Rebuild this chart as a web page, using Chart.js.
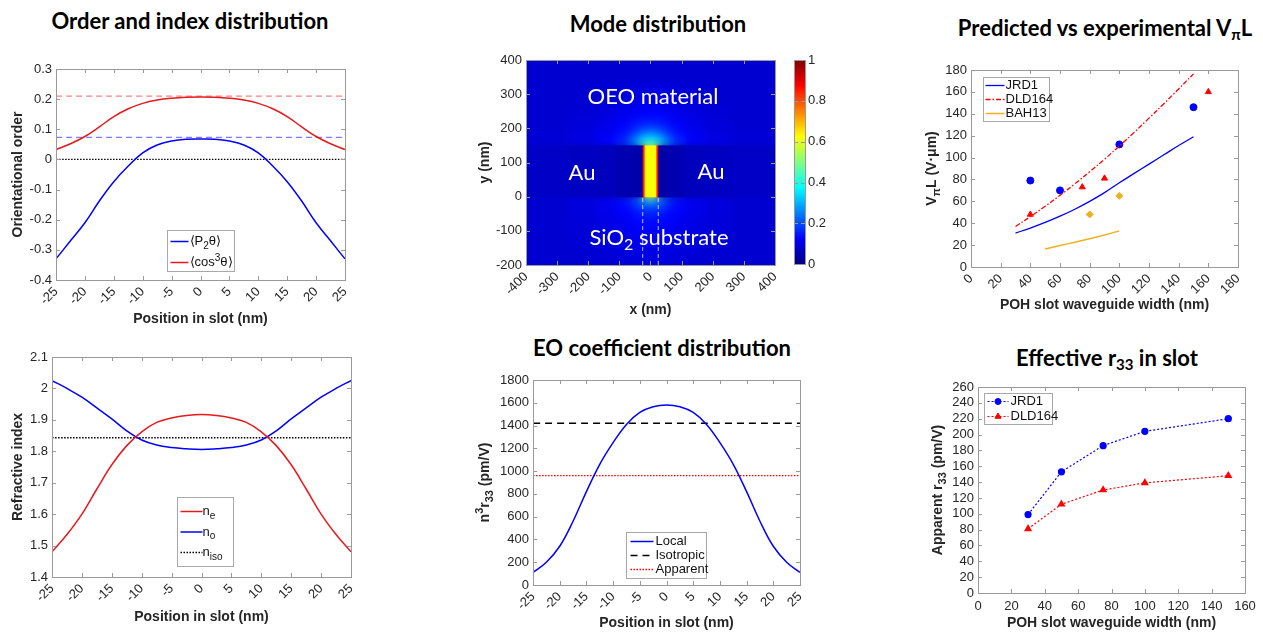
<!DOCTYPE html>
<html>
<head>
<meta charset="utf-8">
<script src="https://cdn.jsdelivr.net/npm/chart.js@4.4.0/dist/chart.umd.min.js"></script>
<style>
  body { margin: 0; width: 1263px; height: 632px; background: #fff; position: relative; overflow: hidden; }
  canvas { position: absolute; }
  .ttl { position: absolute; font: 700 22px Lato, sans-serif; color: #000; white-space: nowrap; transform: translate(-50%, -50%); }
  .ttl sub { font-size: 15px; vertical-align: -4px; line-height: 0; }
  .ann { position: absolute; font: 400 22px Lato, sans-serif; color: #fff; white-space: nowrap; transform: translate(-50%, -50%); z-index: 2; }
  .ann sub { font-size: 16px; vertical-align: -5px; line-height: 0; }
</style>
</head>
<body>
<div class="ttl" style="left:190px;top:20px">Order and index distribution</div>
<div class="ttl" style="left:658px;top:23px">Mode distribution</div>
<div class="ttl" style="left:1105px;top:27px">Predicted vs experimental V<sub>π</sub>L</div>
<div class="ttl" style="left:662px;top:347px">EO coefficient distribution</div>
<div class="ttl" style="left:1107px;top:357px">Effective r<sub>33</sub> in slot</div>

<div class="ann" style="left:653px;top:95px">OEO material</div>
<div class="ann" style="left:582px;top:171px">Au</div>
<div class="ann" style="left:711px;top:170px">Au</div>
<div class="ann" style="left:659px;top:236px">SiO<sub>2</sub> substrate</div>

<script>
// position across the slot (nm)
const slotPos = [-25, -22.5, -20, -17.5, -15, -12.5, -10, -7.5, -5, -2.5, 0, 2.5, 5, 7.5, 10, 12.5, 15, 17.5, 20, 22.5, 25];
const slotTicks = [-25, -20, -15, -10, -5, 0, 5, 10, 15, 20, 25];

// order parameters
const p2Order = [-0.33, -0.27, -0.21, -0.138, -0.074, -0.022, 0.022, 0.048, 0.061, 0.067, 0.068, 0.067, 0.061, 0.048, 0.022, -0.022, -0.074, -0.138, -0.21, -0.27, -0.33];
const cos3Order = [0.033, 0.052, 0.076, 0.108, 0.142, 0.168, 0.186, 0.197, 0.203, 0.206, 0.207, 0.206, 0.203, 0.197, 0.186, 0.168, 0.142, 0.108, 0.076, 0.052, 0.033];
const p2Mean = 0.073;
const cos3Mean = 0.21;
const orderTicks = [-0.4, -0.3, -0.2, -0.1, 0, 0.1, 0.2, 0.3];

// refractive index
const nE = [1.48, 1.535, 1.6, 1.68, 1.757, 1.818, 1.862, 1.892, 1.906, 1.914, 1.917, 1.914, 1.906, 1.892, 1.862, 1.818, 1.757, 1.68, 1.6, 1.535, 1.48];
const nO = [2.025, 2.0, 1.972, 1.938, 1.903, 1.865, 1.836, 1.82, 1.812, 1.808, 1.806, 1.808, 1.812, 1.82, 1.836, 1.865, 1.903, 1.938, 1.972, 2.0, 2.025];
const nIso = 1.843;
const indexTicks = [1.4, 1.5, 1.6, 1.7, 1.8, 1.9, 2, 2.1];

// EO coefficient
const r33Local = [110, 200, 340, 560, 820, 1060, 1250, 1410, 1515, 1565, 1580, 1565, 1515, 1410, 1250, 1060, 820, 560, 340, 200, 110];
const r33Iso = 1420;
const r33App = 960;
const eoTicks = [0, 200, 400, 600, 800, 1000, 1200, 1400, 1600, 1800];

// mode field (jet colour values), rows from bottom to top
const modeXTicks = [-400, -300, -200, -100, 0, 100, 200, 300, 400];
const modeYTicks = [-200, -100, 0, 100, 200, 300, 400];
const cbTicks = [0, 0.2, 0.4, 0.6, 0.8, 1];
const modeXEdges = [-400, -260, -170, -110, -70, -45, -25, -19, 19, 25, 45, 70, 110, 170, 260, 400];
const modeYEdges = [-200, -150, -100, -60, -30, -12, 0, 150, 160, 175, 195, 225, 270, 330, 400];
const modeField = [
  [.08, .08, .085, .09, .09, .095, .095, .095, .095, .095, .09, .09, .085, .08, .08],
  [.08, .085, .09, .1, .105, .11, .11, .11, .11, .11, .105, .1, .09, .085, .08],
  [.08, .09, .1, .11, .12, .125, .13, .13, .13, .125, .12, .11, .1, .09, .08],
  [.08, .09, .105, .12, .135, .15, .16, .16, .16, .15, .135, .12, .105, .09, .08],
  [.08, .095, .11, .13, .16, .2, .23, .23, .23, .2, .16, .13, .11, .095, .08],
  [.085, .1, .12, .15, .2, .27, .33, .33, .33, .27, .2, .15, .12, .1, .085],
  [.07, .065, .06, .05, .045, .04, .85, .62, .85, .04, .045, .05, .06, .065, .07],
  [.085, .1, .13, .18, .28, .38, .42, .42, .42, .38, .28, .18, .13, .1, .085],
  [.085, .1, .125, .16, .23, .32, .37, .37, .37, .32, .23, .16, .125, .1, .085],
  [.085, .095, .115, .14, .18, .23, .27, .27, .27, .23, .18, .14, .115, .095, .085],
  [.08, .09, .105, .125, .145, .16, .17, .17, .17, .16, .145, .125, .105, .09, .08],
  [.08, .085, .095, .105, .115, .12, .125, .125, .125, .12, .115, .105, .095, .085, .08],
  [.08, .08, .085, .09, .095, .095, .1, .1, .1, .095, .095, .09, .085, .08, .08],
  [.08, .08, .08, .08, .08, .08, .08, .08, .08, .08, .08, .08, .08, .08, .08]
];
const slotWalls = [-25, 25];

// V_pi L vs slot width
const vplTicks = [0, 20, 40, 60, 80, 100, 120, 140, 160, 180];
const predW = [30, 40, 50, 60, 70, 80, 90, 100, 110, 120, 130, 140, 150];
const jrdPred = [31, 35.6, 40.7, 46.4, 52.8, 60, 68, 77, 85.5, 94, 102.5, 111, 119];
const dldPred = [37, 46, 55.5, 65.5, 76, 87, 98.5, 110.5, 123, 136, 149.2, 162.7, 176.5];
const bahW = [50, 60, 70, 80, 90, 100];
const bahPred = [16.5, 19.6, 22.7, 25.9, 29.3, 33];
const jrdExpW = [40, 60, 100, 150];
const jrdExp = [79, 70, 112, 146];
const dldExpW = [40, 75, 90, 160];
const dldExp = [48, 73, 81, 160];
const bahExpW = [80, 100];
const bahExp = [48, 65];

// apparent r33 vs slot width
const r33W = [30, 50, 75, 100, 150];
const jrdR33 = [99, 153, 186, 204, 220];
const dldR33 = [81, 112, 130, 139, 148];
const r33XTicks = [0, 20, 40, 60, 80, 100, 120, 140, 160];
const r33YTicks = [0, 20, 40, 60, 80, 100, 120, 140, 160, 180, 200, 220, 240, 260];

const MBLUE = '#0000ff', MRED = '#ff0000', MYEL = '#EDB120';

Chart.defaults.animation = false;
Chart.defaults.font.family = '"Liberation Sans", Arial, Helvetica, sans-serif';
Chart.defaults.font.size = 13;
Chart.defaults.color = '#262626';
Chart.defaults.plugins.legend.display = false;
Chart.defaults.plugins.tooltip.enabled = false;

function pts(xs, ys) { return xs.map((x, i) => ({x, y: ys[i]})); }
function flat(x0, x1, v) { return [{x: x0, y: v}, {x: x1, y: v}]; }

function jet(v) {
  const c = t => Math.round(255 * Math.max(0, Math.min(1, 1.5 - Math.abs(t))));
  return 'rgb(' + c(4 * v - 3) + ',' + c(4 * v - 2) + ',' + c(4 * v - 1) + ')';
}

// text with _{sub} and ^{sup}
function drawRich(ctx, str, x, y, size, weight, align) {
  const parts = [];
  const re = /([_^])\{([^}]*)\}/g;
  let last = 0, m;
  while ((m = re.exec(str))) {
    if (m.index > last) parts.push([str.slice(last, m.index), 0]);
    parts.push([m[2], m[1] === '_' ? 1 : -1]);
    last = re.lastIndex;
  }
  if (last < str.length) parts.push([str.slice(last), 0]);
  const fam = '"Liberation Sans", Arial, sans-serif';
  const fontOf = s => weight + ' ' + (s ? Math.round(size * 0.75) : size) + 'px ' + fam;
  let total = 0;
  parts.forEach(p => { ctx.font = fontOf(p[1]); p.w = ctx.measureText(p[0]).width; total += p.w; });
  let cx = align === 'center' ? x - total / 2 : x;
  ctx.textAlign = 'left';
  ctx.textBaseline = 'middle';
  parts.forEach(p => {
    ctx.font = fontOf(p[1]);
    ctx.fillText(p[0], cx, y + p[1] * size * 0.36);
    cx += p.w;
  });
}

// matlab-like box with inward ticks
const boxTicks = {
  id: 'boxTicks',
  afterDatasetsDraw(chart, args, o) {
    const {ctx, chartArea: a} = chart;
    const len = 4;
    ctx.save();
    ctx.strokeStyle = '#9a9a9a';
    ctx.lineWidth = 1;
    ctx.setLineDash([]);
    ctx.beginPath();
    Object.values(chart.scales).forEach(s => {
      if (!s.options.display) return;
      s.ticks.forEach(t => {
        const p = Math.round(s.getPixelForValue(t.value)) + 0.5;
        if (s.isHorizontal()) {
          ctx.moveTo(p, a.bottom); ctx.lineTo(p, a.bottom - len);
          ctx.moveTo(p, a.top); ctx.lineTo(p, a.top + len);
        } else {
          ctx.moveTo(a.left, p); ctx.lineTo(a.left + len, p);
          ctx.moveTo(a.right, p); ctx.lineTo(a.right - len, p);
        }
      });
    });
    ctx.stroke();
    ctx.strokeRect(Math.round(a.left) + 0.5, Math.round(a.top) + 0.5, Math.round(a.width), Math.round(a.height));
    ctx.restore();
  }
};

const boxLegend = {
  id: 'boxLegend',
  afterDraw(chart, args, o) {
    if (!o.items) return;
    const {ctx, chartArea: a} = chart;
    const x0 = Math.round(a.left + o.x) + 0.5, y0 = Math.round(a.top + o.y) + 0.5;
    ctx.save();
    ctx.fillStyle = '#fff';
    ctx.fillRect(x0, y0, o.w, o.h);
    ctx.strokeStyle = '#a8a8a8';
    ctx.lineWidth = 1;
    ctx.strokeRect(x0, y0, o.w, o.h);
    o.items.forEach((it, i) => {
      const ds = chart.data.datasets[it.ds];
      const yy = y0 + o.first + i * o.rowH;
      ctx.strokeStyle = ds.borderColor;
      ctx.lineWidth = ds.borderWidth;
      ctx.setLineDash(ds.borderDash || []);
      ctx.beginPath();
      ctx.moveTo(x0 + o.lineX, yy);
      ctx.lineTo(x0 + o.lineX + o.lineLen, yy);
      ctx.stroke();
      ctx.setLineDash([]);
      if (ds.pointRadius > 0) {
        ctx.fillStyle = ds.backgroundColor;
        ctx.lineWidth = 1;
        Chart.helpers.drawPoint(ctx, {pointStyle: ds.pointStyle, radius: ds.pointRadius, borderWidth: 1, rotation: 0}, x0 + o.lineX + o.lineLen / 2, yy);
      }
      ctx.fillStyle = '#111';
      drawRich(ctx, it.text, x0 + o.textX, yy, 13, 'normal', 'left');
    });
    ctx.restore();
  }
};

const richYTitle = {
  id: 'richYTitle',
  afterDraw(chart, args, o) {
    if (!o.text) return;
    const {ctx, chartArea: a} = chart;
    ctx.save();
    ctx.translate(o.x, (a.top + a.bottom) / 2);
    ctx.rotate(-Math.PI / 2);
    ctx.fillStyle = '#262626';
    drawRich(ctx, o.text, 0, 0, 14, 'bold', 'center');
    ctx.restore();
  }
};

const heatmap = {
  id: 'heatmap',
  beforeDatasetsDraw(chart, args, o) {
    if (!o.field) return;
    const {ctx, chartArea: a, scales: {x, y}} = chart;
    const cell = (c2, r, c) => {
      const x0 = x.getPixelForValue(o.xEdges[c]), x1 = x.getPixelForValue(o.xEdges[c + 1]);
      const y0 = y.getPixelForValue(o.yEdges[r]), y1 = y.getPixelForValue(o.yEdges[r + 1]);
      c2.fillStyle = jet(o.field[r][c]);
      c2.fillRect(x0, y1, x1 - x0 + 0.6, y0 - y1 + 0.6);
    };
    // soft layer
    const off = document.createElement('canvas');
    off.width = chart.width; off.height = chart.height;
    const oc = off.getContext('2d');
    o.field.forEach((row, r) => row.forEach((v, c) => cell(oc, r, c)));
    ctx.save();
    ctx.beginPath(); ctx.rect(a.left, a.top, a.width, a.height); ctx.clip();
    ctx.fillStyle = jet(o.field[o.field.length - 1][0]);
    ctx.fillRect(a.left, a.top, a.width, a.height);
    ctx.filter = 'blur(' + o.blur + 'px)';
    ctx.drawImage(off, 0, 0);
    ctx.filter = 'none';
    // metal row and slot stay sharp
    o.field[o.sharpRow].forEach((v, c) => cell(ctx, o.sharpRow, c));
    ctx.restore();
  }
};

const colorbar = {
  id: 'colorbar',
  beforeDatasetsDraw(chart, args, o) {
    if (!o.on) return;
    const {ctx, chartArea: a} = chart;
    const gr = ctx.createLinearGradient(0, a.bottom, 0, a.top);
    for (let i = 0; i <= 40; i++) gr.addColorStop(i / 40, jet(i / 40));
    ctx.save();
    ctx.fillStyle = gr;
    ctx.fillRect(a.left, a.top, a.width, a.height);
    ctx.restore();
  }
};

Chart.register(heatmap, colorbar, boxTicks, boxLegend, richYTitle);

function makeCanvas(g) {
  const c = document.createElement('canvas');
  c.width = g.width; c.height = g.height;
  c.style.left = g.left + 'px';
  c.style.top = g.top + 'px';
  document.body.appendChild(c);
  return c;
}

function axis(g, dir, o) {
  const lh = 16.8;
  const ax = {
    type: 'linear', min: o.min, max: o.max,
    position: o.position || (dir === 'x' ? 'bottom' : 'left'),
    afterBuildTicks: s => { s.ticks = o.ticks.map(v => ({value: v})); },
    grid: {display: false, drawTicks: false},
    border: {display: false},
    ticks: {autoSkip: false, padding: o.pad == null ? 4 : o.pad, callback: v => String(v),
      maxRotation: o.rot || 0, minRotation: o.rot || 0, color: '#262626', font: {size: 13}},
    title: {display: !!o.title, text: o.title || '', color: '#262626',
      font: {size: 14, weight: 'bold'}, padding: {top: 0, bottom: 0}}
  };
  if (dir === 'x') {
    ax.afterFit = s => { s.height = g.top + g.height - g.B; };
    if (o.title) ax.title.padding.bottom = Math.max(0, g.top + g.height - g.xt - lh / 2);
  } else {
    ax.afterFit = s => { s.width = o.w || (g.L - g.left); };
    if (o.title) ax.title.padding.top = Math.max(0, g.yt - g.left - lh / 2);
  }
  return ax;
}

function pad(g, extra) {
  return Object.assign({top: g.T - g.top, right: g.left + g.width - g.R, left: 0, bottom: 0}, extra || {});
}

function line(data, color, width, dash, extra) {
  return Object.assign({data, borderColor: color, backgroundColor: color, borderWidth: width,
    borderDash: dash || [], showLine: true, pointRadius: 0, tension: 0.4}, extra || {});
}

// panel geometry: canvas box + plot box (page px)
const g1 = {left: 0, top: 50, width: 420, height: 280, L: 56, T: 69, R: 345, B: 280, xt: 319, yt: 18};
const g2 = {left: 440, top: 40, width: 350, height: 290, L: 526, T: 60, R: 777, B: 265, xt: 310, yt: 485};
const gc = {left: 790, top: 45, width: 50, height: 230, L: 794, T: 60, R: 805, B: 265};
const g3 = {left: 890, top: 50, width: 373, height: 280, L: 971, T: 70, R: 1238, B: 267, xt: 305, yt: 932};
const g4 = {left: 0, top: 340, width: 420, height: 292, L: 52, T: 357, R: 351, B: 577, xt: 617, yt: 18};
const g5 = {left: 440, top: 360, width: 380, height: 272, L: 533, T: 380, R: 800, B: 585, xt: 624, yt: 485};
const g6 = {left: 890, top: 370, width: 373, height: 262, L: 978, T: 387, R: 1245, B: 593, xt: 623, yt: 938};

// 1. order
new Chart(makeCanvas(g1), {
  type: 'scatter',
  data: {datasets: [
    line(pts(slotPos, p2Order), MBLUE, 1.5),
    line(pts(slotPos, cos3Order), '#e8191c', 1.5),
    line(flat(-25, 25, p2Mean), 'rgba(80,80,255,0.75)', 1.2, [6, 4]),
    line(flat(-25, 25, cos3Mean), 'rgba(240,90,90,0.75)', 1.2, [6, 4]),
    line(flat(-25, 25, 0), '#000', 1.3, [1.5, 1.5])
  ]},
  options: {
    responsive: false,
    layout: {padding: pad(g1)},
    scales: {
      x: axis(g1, 'x', {min: -25, max: 25, ticks: slotTicks, rot: 45, title: 'Position in slot (nm)'}),
      y: axis(g1, 'y', {min: -0.4, max: 0.3, ticks: orderTicks, title: 'Orientational order'})
    },
    plugins: {boxLegend: {x: 111, y: 161, w: 67, h: 41, first: 11, rowH: 21, lineX: 3, lineLen: 18, textX: 22,
      items: [{ds: 0, text: '⟨P_{2}θ⟩'}, {ds: 1, text: '⟨cos^{3}θ⟩'}]}}
  }
});

// 2. mode distribution
new Chart(makeCanvas(g2), {
  type: 'scatter',
  data: {datasets: slotWalls.map(w => line([{x: w, y: -200}, {x: w, y: 0}], 'rgba(235,235,255,0.8)', 1, [4, 3]))},
  options: {
    responsive: false,
    layout: {padding: pad(g2)},
    scales: {
      x: axis(g2, 'x', {min: -400, max: 400, ticks: modeXTicks, rot: 45, title: 'x (nm)'}),
      y: axis(g2, 'y', {min: -200, max: 400, ticks: modeYTicks, title: 'y (nm)'})
    },
    plugins: {heatmap: {field: modeField, xEdges: modeXEdges, yEdges: modeYEdges, sharpRow: 6, blur: 5}}
  }
});

// colour bar
new Chart(makeCanvas(gc), {
  type: 'scatter',
  data: {datasets: []},
  options: {
    responsive: false,
    layout: {padding: {top: gc.T - gc.top, right: 0, left: gc.L - gc.left, bottom: gc.top + gc.height - gc.B}},
    scales: {
      x: {type: 'linear', display: false, min: 0, max: 1},
      y: axis(gc, 'y', {min: 0, max: 1, ticks: cbTicks, position: 'right', w: gc.left + gc.width - gc.R, pad: 3})
    },
    plugins: {colorbar: {on: true}}
  }
});

// 3. V_pi L
new Chart(makeCanvas(g3), {
  type: 'scatter',
  data: {datasets: [
    line(pts(predW, jrdPred), MBLUE, 1.3),
    line(pts(predW, dldPred), MRED, 1.3, [5, 2, 1.5, 2]),
    line(pts(bahW, bahPred), MYEL, 1.5),
    {data: pts(jrdExpW, jrdExp), backgroundColor: MBLUE, borderColor: MBLUE, pointStyle: 'circle', pointRadius: 3.5, borderWidth: 1},
    {data: pts(dldExpW, dldExp), backgroundColor: MRED, borderColor: MRED, pointStyle: 'triangle', pointRadius: 3.5, borderWidth: 1},
    {data: pts(bahExpW, bahExp), backgroundColor: MYEL, borderColor: MYEL, pointStyle: 'rectRot', pointRadius: 3.5, borderWidth: 1}
  ]},
  options: {
    responsive: false,
    layout: {padding: pad(g3)},
    scales: {
      x: axis(g3, 'x', {min: 0, max: 180, ticks: vplTicks, rot: 45, title: 'POH slot waveguide width (nm)'}),
      y: axis(g3, 'y', {min: 0, max: 180, ticks: vplTicks})
    },
    plugins: {
      richYTitle: {text: 'V_{π}L (V·μm)', x: g3.yt - g3.left},
      boxLegend: {x: 12, y: 7, w: 66, h: 44, first: 8, rowH: 14, lineX: 2, lineLen: 19, textX: 22,
        items: [{ds: 0, text: 'JRD1'}, {ds: 1, text: 'DLD164'}, {ds: 2, text: 'BAH13'}]}
    }
  }
});

// 4. refractive index
new Chart(makeCanvas(g4), {
  type: 'scatter',
  data: {datasets: [
    line(pts(slotPos, nE), '#e8191c', 1.5),
    line(pts(slotPos, nO), MBLUE, 1.5),
    line(flat(-25, 25, nIso), '#000', 1.3, [1.5, 1.5])
  ]},
  options: {
    responsive: false,
    layout: {padding: pad(g4)},
    scales: {
      x: axis(g4, 'x', {min: -25, max: 25, ticks: slotTicks, rot: 45, title: 'Position in slot (nm)'}),
      y: axis(g4, 'y', {min: 1.4, max: 2.1, ticks: indexTicks, title: 'Refractive index'})
    },
    plugins: {boxLegend: {x: 125, y: 140, w: 56, h: 69, first: 14, rowH: 20.5, lineX: 3, lineLen: 22, textX: 25,
      items: [{ds: 0, text: 'n_{e}'}, {ds: 1, text: 'n_{o}'}, {ds: 2, text: 'n_{iso}'}]}}
  }
});

// 5. EO coefficient
new Chart(makeCanvas(g5), {
  type: 'scatter',
  data: {datasets: [
    line(pts(slotPos, r33Local), MBLUE, 1.5),
    line(flat(-25, 25, r33Iso), '#000', 1.5, [7, 5]),
    line(flat(-25, 25, r33App), MRED, 1.4, [1.5, 1.5])
  ]},
  options: {
    responsive: false,
    layout: {padding: pad(g5)},
    scales: {
      x: axis(g5, 'x', {min: -25, max: 25, ticks: slotTicks, rot: 45, title: 'Position in slot (nm)'}),
      y: axis(g5, 'y', {min: 0, max: 1800, ticks: eoTicks})
    },
    plugins: {
      richYTitle: {text: 'n^{3}r_{33} (pm/V)', x: g5.yt - g5.left},
      boxLegend: {x: 93, y: 152, w: 80, h: 46, first: 9, rowH: 14, lineX: 4, lineLen: 23, textX: 29,
        items: [{ds: 0, text: 'Local'}, {ds: 1, text: 'Isotropic'}, {ds: 2, text: 'Apparent'}]}
    }
  }
});

// 6. apparent r33
new Chart(makeCanvas(g6), {
  type: 'scatter',
  data: {datasets: [
    line(pts(r33W, jrdR33), MBLUE, 1.2, [2, 2], {pointRadius: 3, pointStyle: 'circle', tension: 0}),
    line(pts(r33W, dldR33), MRED, 1.2, [2, 2], {pointRadius: 3.5, pointStyle: 'triangle', tension: 0})
  ]},
  options: {
    responsive: false,
    layout: {padding: pad(g6)},
    scales: {
      x: axis(g6, 'x', {min: 0, max: 160, ticks: r33XTicks, pad: 6, title: 'POH slot waveguide width (nm)'}),
      y: axis(g6, 'y', {min: 0, max: 260, ticks: r33YTicks})
    },
    plugins: {
      richYTitle: {text: 'Apparent r_{33} (pm/V)', x: g6.yt - g6.left},
      boxLegend: {x: 6, y: 6, w: 68, h: 31, first: 8, rowH: 15, lineX: 3, lineLen: 21, textX: 26,
        items: [{ds: 0, text: 'JRD1'}, {ds: 1, text: 'DLD164'}]}
    }
  }
});
</script>
</body>
</html>
